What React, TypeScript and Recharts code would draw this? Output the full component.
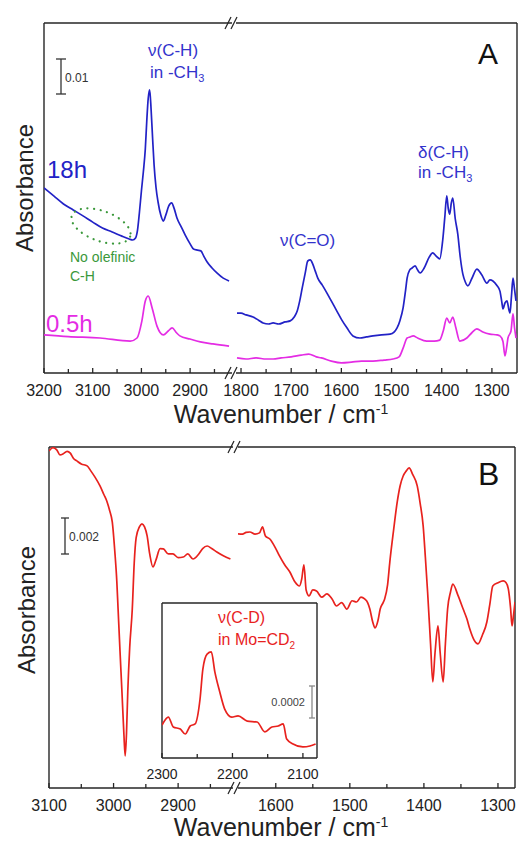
import React from "react";
import { LineChart, Line, XAxis, YAxis, ReferenceLine } from "recharts";

// ------------------------------------------------------------
// IR spectra, two panels with a broken wavenumber axis
// x: wavenumber / cm-1, y: absorbance (units noted per array)
// ------------------------------------------------------------

type Pt = [number, number];

// Panel A, absorbance in units of 0.001
const a18hHigh: Pt[] = [
  [3200, 52.9], [3180, 50.6], [3160, 48.3], [3140, 46.6], [3120, 44.9], [3100, 43.1],
  [3080, 41.4], [3060, 40.3], [3040, 39.1], [3025, 38.3], [3018, 38.0], [3012, 38.6],
  [3008, 40.8], [3004, 46.0], [3000, 52.0], [2996, 57.5], [2992, 64.0], [2989, 72.0],
  [2986, 78.5], [2983, 80.9], [2980, 75.0], [2977, 67.0], [2974, 59.5], [2970, 53.0],
  [2966, 49.0], [2960, 45.0], [2955, 43.4], [2950, 45.1], [2944, 47.7], [2938, 48.6],
  [2933, 47.1], [2927, 44.3], [2918, 41.7], [2910, 39.4], [2900, 36.9], [2893, 35.4],
  [2885, 35.1], [2878, 34.9], [2872, 33.4], [2865, 31.7], [2855, 30.0], [2845, 28.6],
  [2832, 27.1], [2820, 26.3],
];

const a05hHigh: Pt[] = [
  [3200, 10.9], [3150, 10.4], [3085, 10.0], [3023, 9.1], [3009, 10.0], [2999, 14.9],
  [2992, 20.6], [2986, 22.0], [2978, 18.6], [2968, 13.4], [2955, 10.9], [2945, 12.0],
  [2937, 12.9], [2928, 11.5], [2921, 10.6], [2900, 9.7], [2879, 8.9], [2853, 8.3],
  [2820, 7.7],
];

const a18hLow: Pt[] = [
  [1808, 17.1], [1800, 17.1], [1790, 16.6], [1776, 16.0], [1765, 15.1], [1756, 14.3],
  [1745, 14.0], [1736, 14.3], [1725, 14.0], [1712, 14.6], [1702, 14.9], [1694, 16.0],
  [1688, 17.7], [1683, 20.6], [1678, 24.3], [1672, 28.6], [1667, 32.0], [1662, 32.3],
  [1657, 31.1], [1652, 29.1], [1647, 27.1], [1638, 25.1], [1629, 22.9], [1619, 20.3],
  [1609, 17.7], [1599, 15.1], [1589, 12.9], [1577, 10.6], [1563, 10.0], [1550, 10.3],
  [1537, 10.6], [1520, 10.9], [1503, 11.1], [1495, 11.7], [1489, 12.9], [1483, 15.1],
  [1477, 18.6], [1472, 23.7], [1469, 27.1], [1464, 29.4], [1459, 30.0], [1453, 30.6],
  [1448, 29.4], [1443, 28.6], [1435, 30.0], [1425, 33.1], [1418, 34.3], [1411, 33.4],
  [1404, 32.6], [1398, 38.0], [1394, 44.3], [1390, 50.6], [1387, 47.0], [1384, 45.4],
  [1381, 48.5], [1378, 50.0], [1373, 44.0], [1368, 39.7], [1363, 33.0], [1358, 28.3],
  [1353, 26.0], [1348, 24.9], [1340, 27.0], [1330, 29.7], [1320, 28.0], [1310, 25.7],
  [1304, 26.6], [1298, 26.3], [1290, 25.0], [1284, 23.4], [1280, 20.0], [1278, 18.3],
  [1274, 20.0], [1270, 20.6], [1266, 18.0], [1264, 17.1], [1261, 22.0], [1258, 27.1],
  [1255, 24.0], [1252, 20.6],
];

const a05hLow: Pt[] = [
  [1808, 4.3], [1790, 4.0], [1770, 4.3], [1750, 4.0], [1736, 4.0], [1720, 4.3],
  [1700, 4.6], [1680, 5.1], [1665, 5.4], [1650, 4.6], [1640, 4.3], [1620, 3.4],
  [1600, 2.9], [1580, 3.1], [1560, 3.4], [1537, 3.4], [1515, 3.7], [1497, 4.0],
  [1485, 4.6], [1477, 7.1], [1469, 10.0], [1463, 10.3], [1457, 10.6], [1448, 10.0],
  [1430, 9.1], [1415, 9.1], [1404, 9.4], [1397, 12.0], [1390, 15.7], [1384, 14.3],
  [1378, 16.0], [1372, 13.0], [1364, 9.1], [1350, 10.0], [1340, 11.5], [1330, 12.6],
  [1318, 11.7], [1304, 11.1], [1290, 10.9], [1284, 10.6], [1278, 9.0], [1274, 4.9],
  [1270, 8.0], [1268, 10.0], [1262, 12.0], [1258, 16.9], [1255, 13.0], [1252, 10.0],
];

// Panel B, absorbance in units of 0.001
const bHigh: Pt[] = [
  [3100, 18.72], [3094, 18.9], [3088, 18.78], [3083, 18.5], [3078, 18.56], [3072, 18.7],
  [3067, 18.6], [3062, 18.3], [3057, 18.17], [3050, 18.0], [3041, 17.89], [3035, 17.6],
  [3029, 17.28], [3021, 16.78], [3015, 16.3], [3010, 15.89], [3006, 15.4], [3002, 14.78],
  [2998, 13.11], [2995, 11.5], [2993, 9.94], [2990, 7.6], [2987, 5.33], [2984, 3.0],
  [2982, 1.78], [2980, 3.0], [2978, 5.33], [2975, 7.8], [2971, 9.94], [2968, 12.5],
  [2965, 13.9], [2960, 14.5], [2956, 14.67], [2952, 14.5], [2948, 14.0], [2944, 13.0],
  [2939, 12.28], [2934, 12.7], [2928, 13.3], [2923, 13.28], [2915, 13.0], [2908, 13.0],
  [2900, 12.8], [2892, 12.83], [2885, 13.0], [2877, 12.72], [2868, 13.0], [2862, 13.3],
  [2855, 13.44], [2848, 13.3], [2840, 13.11], [2830, 12.9], [2819, 12.72],
];

const bLow: Pt[] = [
  [1651, 14.11], [1645, 14.1], [1640, 14.2], [1635, 14.22], [1628, 14.1], [1622, 14.17],
  [1618, 14.5], [1614, 14.0], [1608, 13.83], [1600, 13.3], [1595, 12.89], [1588, 12.4],
  [1581, 12.0], [1574, 11.44], [1568, 11.22], [1565, 11.6], [1562, 12.4], [1559, 11.0],
  [1555, 10.67], [1550, 11.0], [1545, 10.94], [1538, 10.6], [1531, 10.78], [1524, 10.5],
  [1518, 10.11], [1511, 10.3], [1504, 9.94], [1497, 10.4], [1491, 10.33], [1485, 10.6],
  [1480, 10.5], [1476, 10.3], [1473, 9.94], [1469, 9.2], [1466, 8.89], [1462, 9.3],
  [1459, 9.94], [1455, 10.3], [1453, 10.5], [1449, 11.3], [1446, 12.56], [1441, 14.3],
  [1436, 15.89], [1432, 16.8], [1428, 17.33], [1424, 17.6], [1420, 17.78], [1415, 17.4],
  [1409, 16.78], [1405, 15.8], [1401, 14.56], [1398, 12.8], [1395, 10.89], [1391, 8.0],
  [1388, 5.89], [1385, 7.5], [1381, 9.0], [1378, 7.5], [1374, 5.89], [1371, 8.0],
  [1368, 9.94], [1364, 10.9], [1361, 11.33], [1354, 10.7], [1347, 9.94], [1342, 9.4],
  [1338, 8.83], [1332, 8.2], [1327, 8.0], [1321, 8.5], [1315, 9.22], [1311, 10.2],
  [1307, 11.22], [1300, 11.4], [1293, 11.5], [1289, 11.4], [1286, 11.06], [1283, 10.0],
  [1281, 9.0], [1279, 9.6], [1277, 10.33],
];

// Panel B inset, absorbance in units of 0.0001
const bInset: Pt[] = [
  [2300, 2.06], [2291, 2.56], [2284, 1.94], [2274, 1.81], [2267, 1.5], [2260, 2.0],
  [2253, 2.13], [2246, 3.69], [2242, 5.56], [2236, 6.5], [2230, 6.63], [2225, 5.38],
  [2218, 4.13], [2211, 3.06], [2201, 2.56], [2192, 2.63], [2179, 2.31], [2165, 2.25],
  [2154, 1.63], [2144, 1.94], [2135, 2.0], [2128, 2.13], [2123, 1.19], [2114, 0.88],
  [2100, 0.69], [2090, 0.75], [2082, 0.88],
];

const aTicksHigh = [3200, 3150, 3100, 3050, 3000, 2950, 2900, 2850];
const aTicksLow = [1800, 1750, 1700, 1650, 1600, 1550, 1500, 1450, 1400, 1350, 1300];
const bTicksHigh = [3100, 3050, 3000, 2950, 2900, 2850];
const bTicksLow = [1600, 1550, 1500, 1450, 1400, 1350, 1300];
const insetTicks = [2300, 2250, 2200, 2150, 2100];

const FONT = "'Liberation Sans', Arial, sans-serif";
const FRAME = "#262626";
const BLUE = "#2222c6";
const BLUE_TXT = "#3333cc";
const MAGENTA = "#e42ce4";
const RED = "#e8221e";
const GREEN = "#3a983a";

const rows = (pts: Pt[]) => pts.map(([w, a]) => ({ w, a }));

const makeTick = (fontSize: number, gap: number) => (props: any) => {
  const { x, y, payload } = props;
  const major = payload.value % 100 === 0;
  return (
    <g>
      <line x1={x} x2={x} y1={y} y2={y - (major ? 5 : 4)} stroke={FRAME} strokeWidth={1.3} />
      {major && (
        <text x={x} y={y + gap} textAnchor="middle" fontSize={fontSize} fill="#222" fontFamily={FONT}>
          {payload.value}
        </text>
      )}
    </g>
  );
};

interface Series {
  data: Pt[];
  color: string;
}

interface SegmentProps {
  left: number;
  top: number;
  width: number;
  height: number;
  margin: { top: number; right: number; bottom: number; left: number };
  domain: [number, number];
  yMax: number;
  ticks: number[];
  series: Series[];
  edgeLeft?: boolean;
  edgeRight?: boolean;
  tickFont?: number;
  tickGap?: number;
}

function Segment({
  left, top, width, height, margin, domain, yMax, ticks, series,
  edgeLeft = false, edgeRight = false, tickFont = 16, tickGap = 23,
}: SegmentProps) {
  const frame = { stroke: FRAME, strokeWidth: 1.4 };
  return (
    <div style={{ position: "absolute", left, top }}>
      <LineChart width={width} height={height} margin={margin}>
        <XAxis
          type="number"
          dataKey="w"
          domain={domain}
          reversed
          allowDataOverflow
          ticks={ticks}
          interval={0}
          tickLine={false}
          tickSize={0}
          tickMargin={0}
          tick={makeTick(tickFont, tickGap)}
          axisLine={frame}
          height={30}
        />
        <YAxis type="number" domain={[0, yMax]} hide allowDataOverflow />
        <ReferenceLine y={yMax} {...frame} />
        {edgeLeft && <ReferenceLine x={domain[1]} {...frame} />}
        {edgeRight && <ReferenceLine x={domain[0]} {...frame} />}
        {series.map((s, i) => (
          <Line
            key={i}
            data={rows(s.data)}
            dataKey="a"
            type="monotone"
            stroke={s.color}
            strokeWidth={1.7}
            dot={false}
            isAnimationActive={false}
          />
        ))}
      </LineChart>
    </div>
  );
}

function ScaleBar({ x, y1, y2, w, color }: { x: number; y1: number; y2: number; w: number; color: string }) {
  return (
    <g stroke={color} strokeWidth={1.3}>
      <line x1={x} x2={x} y1={y1} y2={y2} />
      <line x1={x - w} x2={x + w} y1={y1} y2={y1} />
      <line x1={x - w} x2={x + w} y1={y2} y2={y2} />
    </g>
  );
}

function Break({ x, y }: { x: number; y: number }) {
  return (
    <g stroke={FRAME} strokeWidth={1.3}>
      <line x1={x - 6} y1={y + 6} x2={x} y2={y - 6} />
      <line x1={x} y1={y + 6} x2={x + 6} y2={y - 6} />
    </g>
  );
}

export default function App() {
  return (
    <div style={{ position: "absolute", left: 0, top: 0, width: 518, height: 842, background: "#fff", fontFamily: FONT }}>
      {/* Panel A */}
      <Segment
        left={0} top={0} width={240} height={430}
        margin={{ top: 23, left: 44, right: 8, bottom: 27 }}
        domain={[2814, 3200]} yMax={100} ticks={aTicksHigh}
        series={[{ data: a05hHigh, color: MAGENTA }, { data: a18hHigh, color: BLUE }]}
        edgeLeft
      />
      <Segment
        left={200} top={0} width={318} height={430}
        margin={{ top: 23, left: 36, right: 1, bottom: 27 }}
        domain={[1250, 1810]} yMax={100} ticks={aTicksLow}
        series={[{ data: a05hLow, color: MAGENTA }, { data: a18hLow, color: BLUE }]}
        edgeRight
      />

      {/* Panel B */}
      <Segment
        left={0} top={420} width={240} height={400}
        margin={{ top: 27, left: 49, right: 7, bottom: 2 }}
        domain={[2815, 3100]} yMax={18.94} ticks={bTicksHigh}
        series={[{ data: bHigh, color: RED }]}
        edgeLeft
      />
      <Segment
        left={200} top={420} width={318} height={400}
        margin={{ top: 27, left: 38, right: 3, bottom: 2 }}
        domain={[1277, 1651]} yMax={18.94} ticks={bTicksLow}
        series={[{ data: bLow, color: RED }]}
        edgeRight
      />

      {/* Inset */}
      <div style={{ position: "absolute", left: 162, top: 603, width: 155, height: 155, background: "#fff" }} />
      <Segment
        left={130} top={595} width={210} height={200}
        margin={{ top: 8, left: 32, right: 23, bottom: 7 }}
        domain={[2080, 2300]} yMax={9.69} ticks={insetTicks}
        series={[{ data: bInset, color: RED }]}
        edgeLeft edgeRight tickFont={14} tickGap={21}
      />

      <svg width={518} height={842} style={{ position: "absolute", left: 0, top: 0, pointerEvents: "none" }} fontFamily={FONT}>
        <Break x={231} y={23} />
        <Break x={231} y={373} />
        <Break x={234} y={447} />
        <Break x={234} y={788} />

        {/* Panel A annotations */}
        <text transform="translate(33,188) rotate(-90)" textAnchor="middle" fontSize={24} fill="#222">Absorbance</text>
        <text x={281} y={423} textAnchor="middle" fontSize={25} fill="#222">
          Wavenumber / cm<tspan dy={-9} fontSize={14}>-1</tspan>
        </text>
        <text x={478} y={64} fontSize={30} fill="#111">A</text>
        <ScaleBar x={61} y1={59} y2={94} w={5} color="#333" />
        <text x={65} y={82} fontSize={12} fill="#333">0.01</text>
        <text x={148} y={56} fontSize={17} fill={BLUE_TXT}>ν(C-H)</text>
        <text x={150} y={78} fontSize={17} fill={BLUE_TXT}>
          in -CH<tspan dy={4} fontSize={11}>3</tspan>
        </text>
        <text x={280} y={246} fontSize={17} fill={BLUE_TXT}>ν(C=O)</text>
        <text x={418} y={158} fontSize={17} fill={BLUE_TXT}>δ(C-H)</text>
        <text x={418} y={178} fontSize={17} fill={BLUE_TXT}>
          in -CH<tspan dy={4} fontSize={11}>3</tspan>
        </text>
        <text x={47} y={178} fontSize={24} fill={BLUE}>18h</text>
        <text x={46} y={332} fontSize={24} fill={MAGENTA}>0.5h</text>
        <ellipse
          cx={101} cy={226} rx={31} ry={15}
          transform="rotate(20 101 226)"
          fill="none" stroke={GREEN} strokeWidth={2.2}
          strokeDasharray="0.1 6.5" strokeLinecap="round"
        />
        <text x={70} y={262} fontSize={14} fill={GREEN}>No olefinic</text>
        <text x={70} y={281} fontSize={14} fill={GREEN}>C-H</text>

        {/* Panel B annotations */}
        <text transform="translate(35,610) rotate(-90)" textAnchor="middle" fontSize={24} fill="#222">Absorbance</text>
        <text x={281} y={836} textAnchor="middle" fontSize={25} fill="#222">
          Wavenumber / cm<tspan dy={-9} fontSize={14}>-1</tspan>
        </text>
        <text x={478} y={485} fontSize={32} fill="#111">B</text>
        <ScaleBar x={65} y1={518} y2={554} w={4} color="#333" />
        <text x={69} y={541} fontSize={12} fill="#333">0.002</text>
        <text x={218} y={623} fontSize={16} fill={RED}>ν(C-D)</text>
        <text x={218} y={645} fontSize={16} fill={RED}>
          in Mo=CD<tspan dy={4} fontSize={10}>2</tspan>
        </text>
        <ScaleBar x={312} y1={686} y2={718} w={3} color="#888" />
        <text x={305} y={706} textAnchor="end" fontSize={11} fill="#444">0.0002</text>
      </svg>
    </div>
  );
}
